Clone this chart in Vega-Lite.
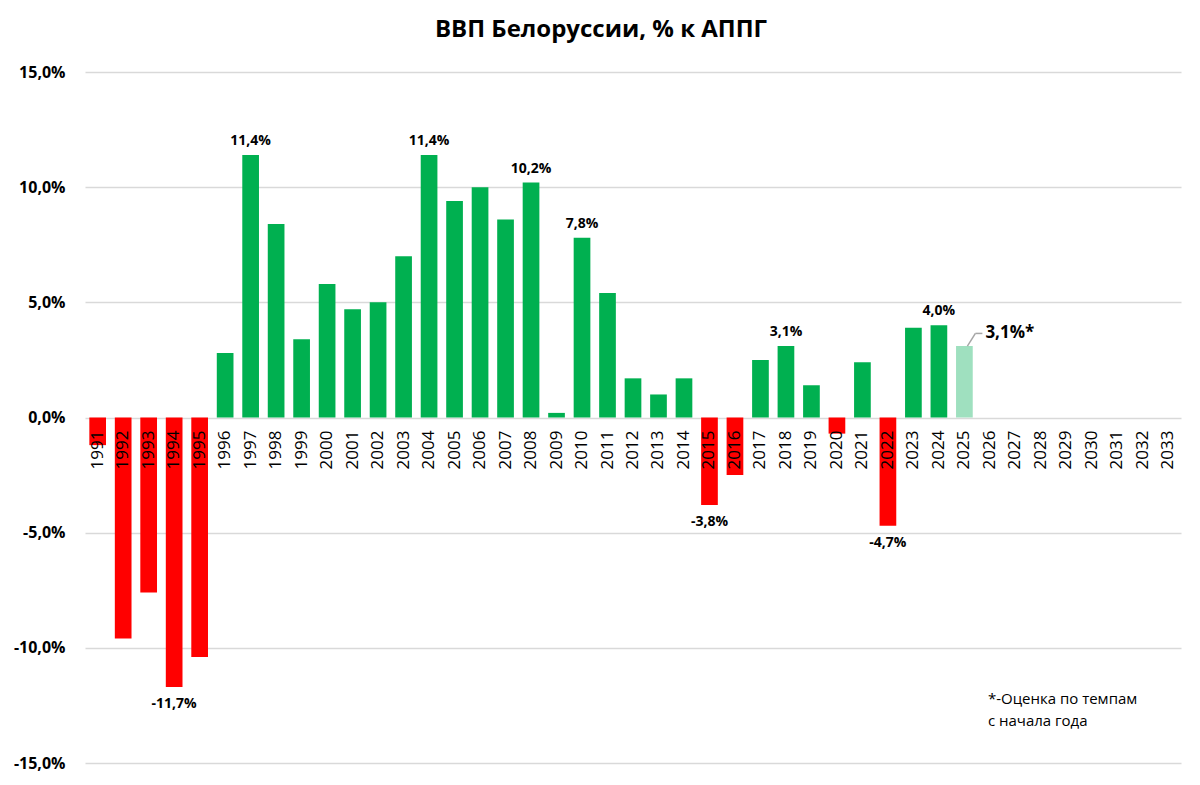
{
  "$schema": "https://vega.github.io/schema/vega-lite/v6.json",
  "width": 1096,
  "height": 691,
  "autosize": "none",
  "padding": {"left": 85, "top": 72, "right": 19, "bottom": 22},
  "background": "white",
  "config": {
    "view": {"stroke": null},
    "font": "Open Sans",
    "locale": {"number": {"decimal": ",", "thousands": " ", "grouping": [3], "currency": ["", ""], "minus": "-"}}
  },
  "title": {"text": "ВВП Белоруссии, % к АППГ", "fontSize": 24, "fontWeight": "bold", "anchor": "middle", "dx": -32, "offset": 22, "color": "black", "font": "Open Sans"},
  "data": {"values": [
    {"year": "1991", "v": -0.012, "kind": "neg", "show": ""},
    {"year": "1992", "v": -0.096, "kind": "neg", "show": ""},
    {"year": "1993", "v": -0.076, "kind": "neg", "show": ""},
    {"year": "1994", "v": -0.117, "kind": "neg", "show": "down"},
    {"year": "1995", "v": -0.104, "kind": "neg", "show": ""},
    {"year": "1996", "v": 0.028, "kind": "pos", "show": ""},
    {"year": "1997", "v": 0.114, "kind": "pos", "show": "up"},
    {"year": "1998", "v": 0.084, "kind": "pos", "show": ""},
    {"year": "1999", "v": 0.034, "kind": "pos", "show": ""},
    {"year": "2000", "v": 0.058, "kind": "pos", "show": ""},
    {"year": "2001", "v": 0.047, "kind": "pos", "show": ""},
    {"year": "2002", "v": 0.050, "kind": "pos", "show": ""},
    {"year": "2003", "v": 0.070, "kind": "pos", "show": ""},
    {"year": "2004", "v": 0.114, "kind": "pos", "show": "up"},
    {"year": "2005", "v": 0.094, "kind": "pos", "show": ""},
    {"year": "2006", "v": 0.100, "kind": "pos", "show": ""},
    {"year": "2007", "v": 0.086, "kind": "pos", "show": ""},
    {"year": "2008", "v": 0.102, "kind": "pos", "show": "up"},
    {"year": "2009", "v": 0.002, "kind": "pos", "show": ""},
    {"year": "2010", "v": 0.078, "kind": "pos", "show": "up"},
    {"year": "2011", "v": 0.054, "kind": "pos", "show": ""},
    {"year": "2012", "v": 0.017, "kind": "pos", "show": ""},
    {"year": "2013", "v": 0.010, "kind": "pos", "show": ""},
    {"year": "2014", "v": 0.017, "kind": "pos", "show": ""},
    {"year": "2015", "v": -0.038, "kind": "neg", "show": "down"},
    {"year": "2016", "v": -0.025, "kind": "neg", "show": ""},
    {"year": "2017", "v": 0.025, "kind": "pos", "show": ""},
    {"year": "2018", "v": 0.031, "kind": "pos", "show": "up"},
    {"year": "2019", "v": 0.014, "kind": "pos", "show": ""},
    {"year": "2020", "v": -0.007, "kind": "neg", "show": ""},
    {"year": "2021", "v": 0.024, "kind": "pos", "show": ""},
    {"year": "2022", "v": -0.047, "kind": "neg", "show": "down"},
    {"year": "2023", "v": 0.039, "kind": "pos", "show": ""},
    {"year": "2024", "v": 0.040, "kind": "pos", "show": "up"},
    {"year": "2025", "v": 0.031, "kind": "est", "show": ""},
    {"year": "2026", "v": null, "kind": "none", "show": ""},
    {"year": "2027", "v": null, "kind": "none", "show": ""},
    {"year": "2028", "v": null, "kind": "none", "show": ""},
    {"year": "2029", "v": null, "kind": "none", "show": ""},
    {"year": "2030", "v": null, "kind": "none", "show": ""},
    {"year": "2031", "v": null, "kind": "none", "show": ""},
    {"year": "2032", "v": null, "kind": "none", "show": ""},
    {"year": "2033", "v": null, "kind": "none", "show": ""}
  ]},
  "encoding": {
    "x": {"field": "year", "type": "ordinal", "sort": "ascending", "scale": {"paddingInner": 0.345, "paddingOuter": 0.17}, "axis": null}
  },
  "layer": [
    {
      "mark": {"type": "bar"},
      "encoding": {
        "y": {"field": "v", "type": "quantitative", "scale": {"domain": [-0.15, 0.15], "nice": false},
          "axis": {"title": null, "format": ".1%", "values": [-0.15, -0.1, -0.05, 0, 0.05, 0.1, 0.15], "domain": false, "ticks": false,
            "labelFont": "Open Sans", "labelFontSize": 16, "labelFontWeight": "bold", "labelColor": "black", "labelPadding": 20,
            "gridColor": "#d9d9d9", "gridWidth": 1.5}},
        "color": {"field": "kind", "type": "nominal", "scale": {"domain": ["neg", "pos", "est", "none"], "range": ["#ff0000", "#00b050", "#9fe0bf", "#ffffff"]}, "legend": null}
      }
    },
    {
      "mark": {"type": "text", "angle": 270, "align": "right", "baseline": "middle", "dx": -13, "fontSize": 17, "color": "black", "font": "Open Sans"},
      "encoding": {"y": {"datum": 0}, "text": {"field": "year"}}
    },
    {
      "transform": [{"filter": "datum.show == 'up'"}],
      "mark": {"type": "text", "baseline": "bottom", "dy": -7, "fontSize": 14, "fontWeight": "bold", "color": "black"},
      "encoding": {"y": {"field": "v", "type": "quantitative"}, "text": {"field": "v", "type": "quantitative", "format": ".1%"}}
    },
    {
      "transform": [{"filter": "datum.show == 'down'"}],
      "mark": {"type": "text", "baseline": "top", "dy": 10, "fontSize": 14, "fontWeight": "bold", "color": "black"},
      "encoding": {"y": {"field": "v", "type": "quantitative"}, "text": {"field": "v", "type": "quantitative", "format": ".1%"}}
    },
    {
      "transform": [{"filter": "datum.kind == 'est'"}],
      "mark": {"type": "rule", "color": "#a6a6a6", "strokeWidth": 1.5, "xOffset": 3, "x2Offset": 11},
      "encoding": {"x2": {"field": "year"}, "y": {"field": "v", "type": "quantitative"}, "y2": {"datum": 0.0365}}
    },
    {
      "transform": [{"filter": "datum.kind == 'est'"}],
      "mark": {"type": "rule", "color": "#a6a6a6", "strokeWidth": 1.5, "xOffset": 11, "x2Offset": 18},
      "encoding": {"x2": {"field": "year"}, "y": {"datum": 0.0365}}
    },
    {
      "transform": [{"filter": "datum.kind == 'est'"}],
      "mark": {"type": "text", "align": "left", "baseline": "middle", "dx": 21, "dy": -13, "fontSize": 17, "fontWeight": "bold", "color": "black"},
      "encoding": {"y": {"field": "v", "type": "quantitative"}, "text": {"value": "3,1%*"}}
    },
    {
      "data": {"values": [{"note": "*-Оценка по темпам"}]},
      "mark": {"type": "text", "align": "left", "baseline": "top", "dx": -2, "fontSize": 15, "lineHeight": 22, "color": "black"},
      "encoding": {"x": {"datum": "2026"}, "y": {"datum": -0.119}, "text": {"value": ["*-Оценка по темпам", "с начала года"]}}
    }
  ]
}
